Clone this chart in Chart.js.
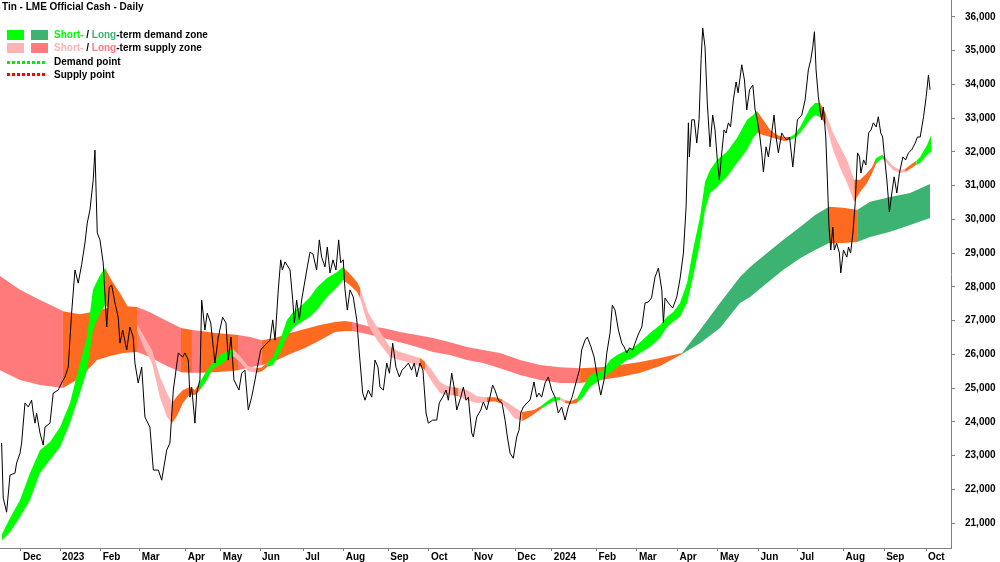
<!DOCTYPE html>
<html>
<head>
<meta charset="utf-8">
<title>Tin - LME Official Cash - Daily</title>
<script src="https://cdn.jsdelivr.net/npm/chart.js@4.4.1/dist/chart.umd.min.js"></script>
<style>
  html, body { margin: 0; padding: 0; background: #fff; overflow: hidden; }
  #wrap { position: relative; width: 1000px; height: 563px; }
  #wrap canvas { position: absolute; left: 0; top: 0; }
  .lbl { position: absolute; font: bold 10px "Liberation Sans", Arial, sans-serif; color: #000; white-space: nowrap; line-height: 12px; }
  .box { position: absolute; width: 17px; height: 10px; }
  .dots { position: absolute; width: 40px; height: 3px; }
</style>
</head>
<body>
<div id="wrap">
  <canvas id="chart" width="1000" height="563"></canvas>

  <div class="lbl" style="left:2px; top:1px;">Tin - LME Official Cash - Daily</div>

  <div class="box" style="left:7px; top:30px; background:#00ff00;"></div>
  <div class="box" style="left:31px; top:30px; background:#3cb371;"></div>
  <div class="lbl" style="left:54px; top:29px;"><span style="color:#00ff00">Short-</span> / <span style="color:#3cb371">Long</span>-term demand zone</div>

  <div class="box" style="left:7px; top:43px; background:#ffb3b3;"></div>
  <div class="box" style="left:31px; top:43px; background:#ff7b7b;"></div>
  <div class="lbl" style="left:54px; top:42px;"><span style="color:#ffb3b3">Short-</span> / <span style="color:#ff7b7b">Long</span>-term supply zone</div>

  <div class="dots" style="left:7px; top:61px; background:repeating-linear-gradient(to right, #00ee00 0 3px, transparent 3px 5px);"></div>
  <div class="lbl" style="left:54px; top:56px;">Demand point</div>

  <div class="dots" style="left:7px; top:73px; background:repeating-linear-gradient(to right, #ff0000 0 3px, transparent 3px 5px);"></div>
  <div class="lbl" style="left:54px; top:69px;">Supply point</div>
</div>

<script>
// x values are day offsets from 1 Dec 2022 (as laid out on the original axis)
const monthStarts = [0, 29, 59, 88, 122, 148, 177, 209, 239, 272, 302, 334,
                     366, 393, 426, 456, 486, 516, 546, 575, 609, 639, 670];
const monthLabels = ['Dec', '2023', 'Feb', 'Mar', 'Apr', 'May', 'Jun', 'Jul', 'Aug', 'Sep', 'Oct', 'Nov',
                     'Dec', '2024', 'Feb', 'Mar', 'Apr', 'May', 'Jun', 'Jul', 'Aug', 'Sep', 'Oct'];
const priceTicks = [21000, 22000, 23000, 24000, 25000, 26000, 27000, 28000,
                    29000, 30000, 31000, 32000, 33000, 34000, 35000, 36000];

// daily cash price (sampled)
const priceDays = [
  -14.3, -13.1, -10.6, -8.1, -4.4, -3.2, -0.7, 0.5, 3.0, 5.4, 7.9, 9.1, 10.4, 11.6, 14.1, 16.5, 17.8, 21.5, 23.9, 27.6,
  30.1, 32.6, 35.0, 37.5, 40.0, 42.4, 44.9, 47.4, 49.1, 51.1, 53.5, 54.8, 56.5, 58.5, 60.9, 63.5, 65.4, 67.2, 69.6, 72.0,
  73.3, 75.3, 78.3, 80.7, 83.1, 84.4, 86.8, 89.4, 91.8, 95.5, 98.0, 101.7, 104.2, 107.9, 110.3, 112.8, 116.5, 119.7, 121.4, 123.9,
  125.1, 126.4, 128.8, 130.1, 132.5, 133.8, 136.2, 137.9, 140.5, 143.6, 146.1, 149.3, 151.8, 153.5, 155.5, 157.7, 161.4, 163.4, 165.8, 168.3,
  170.8, 173.3, 175.0, 177.5, 179.4, 184.4, 186.4, 188.1, 190.5, 192.3, 193.5, 195.5, 199.2, 201.2, 202.4, 204.1, 206.1, 207.8, 212.0, 214.0,
  216.2, 218.9, 220.9, 222.6, 225.1, 226.8, 228.8, 231.0, 233.2, 235.2, 236.7, 238.6, 239.9, 241.6, 243.6, 246.0, 248.6, 250.5, 253.0, 254.7,
  257.1, 259.7, 262.1, 264.3, 265.8, 268.3, 270.8, 272.8, 275.2, 277.6, 280.1, 282.1, 284.3, 286.8, 289.2, 291.2, 293.0, 295.4, 297.6, 299.9,
  301.6, 304.8, 307.8, 309.7, 312.2, 314.7, 316.4, 318.9, 320.6, 322.6, 325.6, 327.5, 329.5, 331.2, 333.7, 334.9, 337.4, 340.4, 342.3, 344.8,
  347.2, 349.2, 350.9, 353.4, 356.1, 358.4, 360.1, 362.1, 364.5, 367.0, 368.7, 370.0, 371.9, 374.6, 376.9, 379.8, 381.8, 383.5, 385.5, 388.0,
  390.4, 392.9, 395.4, 397.8, 400.3, 402.8, 405.2, 408.0, 411.4, 413.4, 415.1, 417.6, 419.3, 422.0, 424.3, 426.7, 429.2, 431.7, 433.7, 436.1,
  437.8, 439.8, 442.3, 444.8, 446.5, 448.5, 450.5, 452.9, 454.6, 456.8, 459.6, 462.0, 464.5, 466.8, 469.4, 471.9, 474.4, 475.6, 476.8, 479.3,
  482.5, 485.5, 488.0, 490.4, 492.4, 494.1, 494.8, 496.6, 498.5, 500.3, 502.0, 503.5, 504.7, 506.4, 508.1, 510.1, 512.1, 513.8, 515.5, 517.0,
  518.8, 520.5, 522.0, 523.7, 525.3, 527.4, 529.4, 530.9, 533.6, 535.6, 537.3, 539.4, 541.8, 543.5, 544.7, 546.7, 548.4, 549.6, 551.6, 553.3,
  555.1, 557.5, 559.0, 560.7, 563.2, 565.0, 566.9, 569.0, 571.4, 573.1, 574.8, 578.0, 580.5, 582.9, 584.7, 586.2, 587.4, 588.6, 590.3, 591.6,
  592.8, 594.0, 595.8, 597.0, 598.2, 599.5, 601.0, 602.1, 603.8, 605.9, 606.9, 608.9, 611.4, 612.6, 614.2, 615.9, 617.6, 619.3, 620.8, 621.8,
  623.8, 625.5, 627.5, 629.3, 631.0, 633.1, 634.7, 636.5, 637.9, 639.0, 641.0, 642.9, 644.7, 646.4, 648.4, 650.3, 652.9, 654.9, 657.0, 659.4,
  662.0, 663.7, 665.7, 668.2, 670.1, 671.8, 673.0
];
const price = [
  23370, 21740, 21320, 22420, 22480, 22780, 23070, 23370, 24560, 24440, 24640, 24260, 23960, 24260, 23670, 23310, 23840, 23960, 24850, 24940,
  25150, 25330, 25620, 27220, 28500, 28110, 28650, 29300, 29890, 30280, 31170, 32050, 29600, 29390, 28710, 26810, 27990, 28050, 27520, 27100,
  26330, 26720, 26130, 26810, 26510, 25740, 25150, 25620, 24140, 23840, 22570, 22570, 22270, 23160, 23370, 24940, 26040, 25920, 26040, 25830,
  24730, 25030, 23960, 24850, 25240, 27610, 26720, 27220, 26930, 25740, 26510, 27100, 26930, 25830, 26510, 25240, 24940, 25440, 25530, 24350,
  24730, 25240, 25620, 26130, 26220, 26420, 27020, 26420, 27910, 28800, 28500, 28740, 28500, 27610, 26930, 27610, 27020, 27610, 28590, 29030,
  28970, 28500, 29390, 28880, 28590, 29180, 28410, 28800, 28500, 29390, 28710, 28800, 27910, 27310, 27910, 27700, 27020, 26040, 24850, 24640,
  24940, 24730, 25830, 25620, 25030, 24940, 25740, 25440, 26330, 25620, 25330, 25530, 25620, 25740, 25530, 25740, 25330, 25740, 25530, 24260,
  23960, 24050, 24050, 24560, 24730, 24940, 24640, 25440, 25030, 24350, 24730, 25030, 24640, 24730, 23670, 23550, 24140, 24350, 24590, 24350,
  24730, 25090, 24940, 24640, 24560, 24050, 23550, 23070, 22920, 23550, 23750, 24260, 24440, 24560, 24640, 25180, 24730, 24850, 24730, 25150,
  25330, 24940, 24730, 24260, 24440, 24050, 24440, 24730, 25240, 25530, 26130, 26420, 26510, 26220, 25920, 25330, 24790, 25240, 26040, 26630,
  27460, 27310, 26720, 26330, 26220, 26040, 26190, 26130, 26330, 26570, 26810, 27520, 27550, 27670, 28290, 28560, 27910, 26930, 27670, 27520,
  27370, 27700, 28260, 29000, 30370, 32860, 31850, 32950, 32950, 32260, 32950, 34730, 35670, 35110, 33450, 32150, 33090, 32650, 31760, 31170,
  31970, 32650, 32560, 32860, 32740, 33540, 34070, 33750, 34580, 34130, 33240, 33840, 33980, 33240, 33040, 32560, 31970, 31400, 32150, 31850,
  32350, 33090, 32440, 31970, 32560, 32440, 32350, 32440, 31550, 32260, 32950, 33090, 33540, 34430, 34730, 35110, 35560, 34430, 33630, 33240,
  32950, 33330, 32440, 31170, 29770, 29090, 29770, 29090, 29300, 29000, 28410, 29090, 28880, 29180, 29000, 29600, 30490, 31970, 31850, 31370,
  31760, 31610, 32560, 32650, 32860, 32740, 33040, 32560, 32440, 31970, 31170, 30220, 30780, 31260, 30780, 31370, 31850, 31760, 31970, 32060,
  32260, 32440, 32440, 33040, 33630, 34280, 33840
];

// short-term zone band; zone letter: D = demand, S = supply, N = neither (overlap)
const shortDays = [
  -14.1, -8.1, -0.7, 6.7, 14.1, 21.5, 28.9, 36.3, 43.7, 48.9,
  53.3, 57.8, 62.2, 67.4, 73.3, 79.2, 85.9, 91.8, 97.0, 102.9,
  108.1, 111.8, 115.5, 119.9, 125.1, 128.8, 132.5, 137.7, 142.2, 147.3,
  153.3, 157.0, 162.1, 168.1, 174.7, 178.4, 182.1, 186.6, 191.8, 196.9,
  201.4, 206.6, 214.0, 219.2, 226.6, 234.0, 238.4, 243.6, 248.8, 251.0,
  256.9, 263.6, 273.2, 280.6, 288.0, 295.4, 299.1, 304.3, 310.2, 315.4,
  319.9, 323.6, 330.2, 337.6, 345.0, 350.9, 356.1, 360.6, 365.0, 371.0,
  375.4, 379.8, 385.0, 389.5, 393.9, 399.1, 402.8, 407.2, 411.7, 416.1,
  421.3, 426.5, 430.9, 436.1, 441.3, 448.7, 453.1, 458.3, 465.7, 473.1,
  478.3, 482.7, 487.9, 493.1, 497.5, 502.7, 506.4, 510.1, 515.3, 522.7,
  530.1, 537.5, 542.0, 544.9, 549.4, 554.6, 559.7, 564.9, 569.4, 573.1,
  576.8, 584.2, 587.9, 591.6, 596.0, 601.2, 606.4, 611.6, 616.8, 621.2,
  626.4, 630.1, 633.0, 637.5, 639.7, 645.6, 650.8, 654.5, 660.4, 662.7,
  665.6, 670.8, 673.8
];
const shortHi = [
  20670, 21150, 21680, 22480, 23160, 23400, 23840, 24560, 25740, 26510,
  27910, 28290, 28560, 28170, 27820, 27400, 26900, 26480, 26130, 25330,
  24850, 24560, 24760, 24940, 25030, 24940, 25180, 25530, 25740, 25980,
  26100, 26160, 25950, 25650, 25590, 25620, 25740, 25920, 26420, 27020,
  27250, 27400, 27700, 27990, 28260, 28440, 28590, 28380, 28140, 27970,
  27250, 26810, 26220, 26070, 25980, 25890, 25770, 25530, 25180, 25060,
  25030, 25000, 24940, 24760, 24730, 24730, 24670, 24560, 24440, 24290,
  24320, 24350, 24470, 24610, 24730, 24730, 24640, 24610, 24700, 25030,
  25390, 25450, 25530, 25830, 25980, 26130, 26190, 26360, 26630, 26870,
  27110, 27250, 27520, 28110, 29090, 30070, 31110, 31460, 31760, 32000,
  32410, 32950, 33090, 33210, 32950, 32650, 32500, 32440, 32440, 32530,
  32740, 33300, 33450, 33450, 33120, 32560, 32150, 31760, 31170, 31170,
  31370, 31550, 31820, 31910, 31850, 31580, 31460, 31490, 31670, 31730,
  31850, 32200, 32500
];
const shortLo = [
  20490, 20730, 21180, 21680, 22480, 22870, 23250, 23960, 24850, 25530,
  26720, 27160, 27460, 27310, 27080, 26930, 26720, 26130, 25740, 24730,
  24140, 23960, 24170, 24560, 24820, 24790, 24940, 25240, 25590, 25680,
  25860, 25950, 25770, 25500, 25450, 25500, 25620, 25680, 26040, 26510,
  26780, 26930, 27110, 27310, 27700, 27990, 28200, 28050, 27850, 27670,
  26870, 26420, 25920, 25830, 25740, 25650, 25530, 25180, 24850, 24790,
  24790, 24760, 24640, 24560, 24590, 24610, 24530, 24350, 24110, 24020,
  24110, 24230, 24380, 24500, 24610, 24640, 24560, 24530, 24560, 24730,
  25030, 25180, 25300, 25450, 25620, 25830, 25890, 26040, 26220, 26480,
  26810, 26960, 27110, 27520, 28290, 29300, 30280, 30780, 30960, 31260,
  31670, 32060, 32410, 32560, 32500, 32440, 32380, 32320, 32350, 32410,
  32560, 32950, 33090, 33030, 32800, 32060, 31520, 31080, 30520, 30810,
  31080, 31370, 31640, 31820, 31730, 31460, 31370, 31400, 31550, 31610,
  31670, 31910, 32000
];
const shortZone = [
  'D', 'D', 'D', 'D', 'D', 'D', 'D', 'D', 'D', 'D',
  'D', 'D', 'N', 'N', 'N', 'N', 'S', 'S', 'S', 'S',
  'S', 'N', 'N', 'N', 'N', 'N', 'D', 'D', 'D', 'D',
  'D', 'S', 'S', 'S', 'N', 'N', 'D', 'D', 'D', 'D',
  'D', 'D', 'D', 'D', 'D', 'D', 'N', 'N', 'N', 'S',
  'S', 'S', 'S', 'S', 'S', 'N', 'S', 'S', 'S', 'S',
  'N', 'S', 'S', 'S', 'N', 'N', 'S', 'S', 'S', 'N',
  'N', 'N', 'D', 'D', 'D', 'S', 'N', 'N', 'D', 'D',
  'D', 'D', 'D', 'D', 'D', 'D', 'D', 'D', 'D', 'D',
  'D', 'D', 'D', 'D', 'D', 'D', 'D', 'D', 'D', 'D',
  'D', 'D', 'D', 'N', 'N', 'N', 'N', 'N', 'D', 'D',
  'D', 'D', 'D', 'N', 'S', 'S', 'S', 'S', 'N', 'N',
  'N', 'N', 'D', 'D', 'S', 'S', 'S', 'N', 'N', 'D',
  'D', 'D', 'D'
];

// long-term zone band
const longDays = [
  -15.5, -0.7, 14.1, 31.1, 43.7, 56.3, 65.9, 75.5, 85.9, 95.5,
  106.6, 118.5, 126.6, 133.3, 143.6, 153.3, 160.7, 169.6, 178.4, 188.1,
  199.2, 210.3, 221.4, 232.5, 239.9, 245.1, 256.2, 268.0, 280.6, 293.2,
  305.0, 317.6, 330.2, 342.1, 354.6, 369.5, 384.3, 399.1, 413.9, 428.7,
  443.5, 458.3, 473.1, 489.4, 502.7, 517.5, 532.3, 539.8, 552.3, 564.2,
  576.8, 587.9, 598.2, 608.6, 619.0, 628.6, 643.4, 658.2, 673.0
];
const longHi = [
  28320, 27910, 27610, 27280, 27190, 27280, 27400, 27430, 27400, 27250,
  27020, 26780, 26720, 26690, 26630, 26600, 26570, 26510, 26420, 26480,
  26630, 26750, 26870, 26960, 26990, 26960, 26840, 26780, 26660, 26570,
  26480, 26360, 26220, 26130, 26040, 25830, 25680, 25620, 25590, 25620,
  25680, 25770, 25890, 26040, 26720, 27520, 28290, 28590, 29000, 29390,
  29770, 30130, 30370, 30340, 30280, 30520, 30660, 30780, 31050
];
const longLo = [
  25530, 25240, 25090, 25000, 25300, 25830, 25950, 26040, 26070, 25920,
  25680, 25470, 25450, 25450, 25470, 25500, 25530, 25620, 25680, 25800,
  26010, 26190, 26420, 26660, 26690, 26690, 26600, 26480, 26360, 26220,
  26070, 25980, 25830, 25740, 25590, 25390, 25240, 25150, 25150, 25240,
  25330, 25450, 25650, 26010, 26330, 26780, 27520, 27700, 28110, 28500,
  28850, 29090, 29300, 29300, 29330, 29480, 29630, 29830, 30040
];
const longZone = [
  'S', 'S', 'S', 'N', 'N', 'N', 'N', 'N', 'S', 'S',
  'S', 'N', 'S', 'N', 'N', 'N', 'S', 'S', 'N', 'N',
  'N', 'N', 'N', 'N', 'N', 'S', 'S', 'S', 'S', 'S',
  'S', 'S', 'S', 'S', 'S', 'S', 'S', 'S', 'N', 'N',
  'N', 'N', 'N', 'D', 'D', 'D', 'D', 'D', 'D', 'D',
  'D', 'D', 'N', 'N', 'D', 'D', 'D', 'D', 'D'
];

const shortColours = { D: '#00ff00', S: '#ffb3b3', N: '#ff6a21' };
const longColours = { D: '#3cb371', S: '#ff7b7b', N: '#ff6a21' };

function points(xs, ys) {
    return xs.map((x, i) => ({ x, y: ys[i] }));
}

function zoneBand(xs, hi, lo, zones, colours) {
    return [
        {
            data: points(xs, hi),
            fill: '+1',
            borderWidth: 0,
            pointRadius: 0,
            backgroundColor: colours.N,
            segment: { backgroundColor: ctx => colours[zones[ctx.p0DataIndex]] },
        },
        { data: points(xs, lo), fill: false, borderWidth: 0, pointRadius: 0 },
    ];
}

const axisFont = { family: '"Liberation Sans", Arial, sans-serif', size: 10, weight: 'bold' };
const axisGrey = '#808080';

new Chart(document.getElementById('chart'), {
    type: 'line',
    data: {
        datasets: [
            { data: points(priceDays, price), borderColor: '#000', borderWidth: 1, pointRadius: 0, fill: false },
            ...zoneBand(shortDays, shortHi, shortLo, shortZone, shortColours),
            ...zoneBand(longDays, longHi, longLo, longZone, longColours),
        ],
    },
    options: {
        responsive: false,
        animation: false,
        events: [],
        layout: { padding: 0 },
        elements: { line: { tension: 0 } },
        plugins: { legend: { display: false }, tooltip: { enabled: false } },
        scales: {
            x: {
                type: 'linear',
                min: -15.5,
                max: 688.5,
                afterBuildTicks: scale => { scale.ticks = monthStarts.map(v => ({ value: v })); },
                grid: { drawOnChartArea: false, tickLength: 3, color: axisGrey },
                border: { color: axisGrey },
                ticks: {
                    callback: (v, i) => monthLabels[i],
                    align: 'start',
                    labelOffset: 2,
                    padding: 0,
                    autoSkip: false,
                    maxRotation: 0,
                    color: '#000',
                    font: axisFont,
                },
            },
            y: {
                position: 'right',
                min: 20260,
                max: 36500,
                afterBuildTicks: scale => { scale.ticks = priceTicks.map(v => ({ value: v })); },
                afterFit: scale => {
                    // fixed gutter for the price labels, no extra top/bottom room
                    scale.width = 49;
                    scale.paddingTop = 0;
                    scale.paddingBottom = 0;
                },
                grid: { drawOnChartArea: false, tickLength: 4, color: axisGrey },
                border: { color: axisGrey },
                ticks: {
                    callback: v => v.toLocaleString('en-US'),
                    padding: 10,
                    autoSkip: false,
                    color: '#000',
                    font: axisFont,
                },
            },
        },
    },
});
</script>
</body>
</html>
